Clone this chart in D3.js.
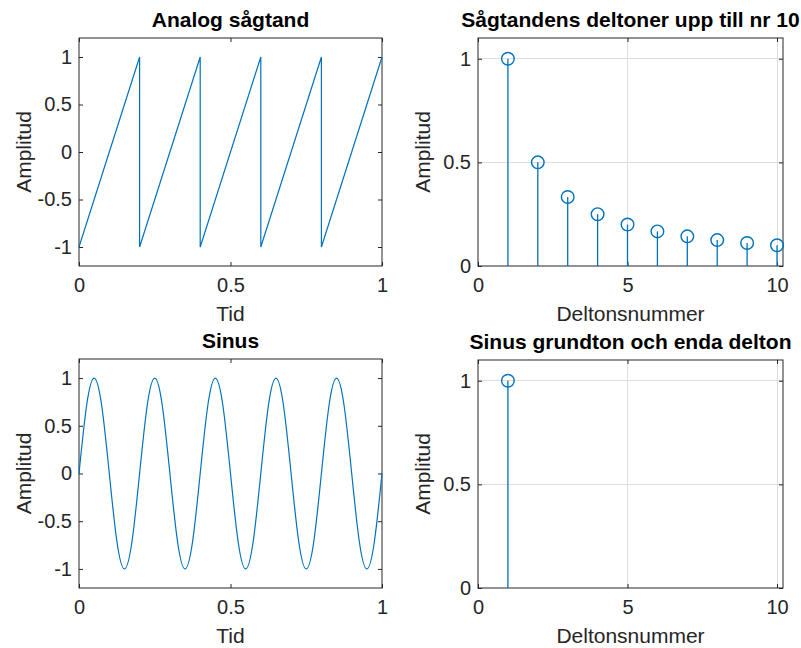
<!DOCTYPE html>
<html>
<head>
<meta charset="utf-8">
<script src="https://cdn.jsdelivr.net/npm/d3@7"></script>
<style>
  html, body { margin: 0; padding: 0; background: #fff; }
  svg { display: block; font-family: "Liberation Sans", Arial, Helvetica, sans-serif; }
</style>
</head>
<body>
<svg id="fig" width="801" height="648"></svg>
<script>
// Sawtooth: vertices of the ramp-and-drop waveform (time, amplitude)
const sawTime = [0, 0.2, 0.2, 0.4, 0.4, 0.6, 0.6, 0.8, 0.8, 1.0];
const sawAmp  = [-1, 1, -1, 1, -1, 1, -1, 1, -1, 1];

// Sine, 5 periods over one second, sampled every eighth of a period
const sinTime = [0, 0.025, 0.05, 0.075, 0.1, 0.125, 0.15, 0.175, 0.2, 0.225, 0.25, 0.275, 0.3,
  0.325, 0.35, 0.375, 0.4, 0.425, 0.45, 0.475, 0.5, 0.525, 0.55, 0.575, 0.6, 0.625, 0.65, 0.675,
  0.7, 0.725, 0.75, 0.775, 0.8, 0.825, 0.85, 0.875, 0.9, 0.925, 0.95, 0.975, 1.0];
const sinAmp = [0, 0.71, 1, 0.71, 0, -0.71, -1, -0.71, 0, 0.71, 1, 0.71, 0,
  -0.71, -1, -0.71, 0, 0.71, 1, 0.71, 0, -0.71, -1, -0.71, 0, 0.71, 1, 0.71,
  0, -0.71, -1, -0.71, 0, 0.71, 1, 0.71, 0, -0.71, -1, -0.71, 0];

// Partial numbers and amplitudes
const sawPartials = [1, 2, 3, 4, 5, 6, 7, 8, 9, 10];
const sawPartialAmp = [1, 0.5, 0.333, 0.25, 0.2, 0.167, 0.143, 0.125, 0.111, 0.1];
const sinPartials = [1];
const sinPartialAmp = [1];

// Tick values
const timeTicks = [0, 0.5, 1];
const ampTicks = [-1, -0.5, 0, 0.5, 1];
const partialTicks = [0, 5, 10];
const partialAmpTicks = [0, 0.5, 1];

// Titles and labels
const titles = ["Analog sågtand", "Sågtandens deltoner upp till nr 10", "Sinus", "Sinus grundton och enda delton"];
const xLabels = ["Tid", "Deltonsnummer", "Tid", "Deltonsnummer"];
const yLabel = "Amplitud";

const BLUE = "#0072BD";
const AXIS = "#262626";
const GRID = "#dedede";

const svg = d3.select("#fig");
const fmt = d => String(d);

function panel(opt) {
  const {x0, x1, y0, y1, xDomain, yDomain, xTicks, yTicks, grid, title, xLabel} = opt;
  const x = d3.scaleLinear().domain(xDomain).range([x0, x1]);
  const y = d3.scaleLinear().domain(yDomain).range([y1, y0]);
  const g = svg.append("g");

  if (grid) {
    g.append("g").selectAll("line.gx").data(xTicks.filter(t => t > xDomain[0]))
      .join("line").attr("x1", d => x(d)).attr("x2", d => x(d)).attr("y1", y0).attr("y2", y1)
      .attr("stroke", GRID).attr("stroke-width", 1).attr("shape-rendering", "crispEdges");
    g.append("g").selectAll("line.gy").data(yTicks.filter(t => t > yDomain[0]))
      .join("line").attr("y1", d => y(d)).attr("y2", d => y(d)).attr("x1", x0).attr("x2", x1)
      .attr("stroke", GRID).attr("stroke-width", 1).attr("shape-rendering", "crispEdges");
  }

  const tick = 4;
  const styleAxis = sel => {
    sel.select(".domain").remove();
    sel.selectAll(".tick line").attr("stroke", AXIS);
    sel.selectAll(".tick text").attr("fill", AXIS).style("font-size", "20px");
  };
  g.append("g").attr("transform", `translate(0,${y1})`)
    .call(d3.axisBottom(x).tickValues(xTicks).tickFormat(fmt).tickSizeInner(-tick).tickSizeOuter(0).tickPadding(12))
    .call(styleAxis);
  g.append("g").attr("transform", `translate(0,${y0})`)
    .call(d3.axisTop(x).tickValues(xTicks).tickFormat("").tickSizeInner(-tick).tickSizeOuter(0))
    .call(styleAxis);
  g.append("g").attr("transform", `translate(${x0},0)`)
    .call(d3.axisLeft(y).tickValues(yTicks).tickFormat(fmt).tickSizeInner(-tick).tickSizeOuter(0).tickPadding(7))
    .call(styleAxis);
  g.append("g").attr("transform", `translate(${x1},0)`)
    .call(d3.axisRight(y).tickValues(yTicks).tickFormat("").tickSizeInner(-tick).tickSizeOuter(0))
    .call(styleAxis);
  g.selectAll("g").attr("font-family", null).attr("font-size", null);

  g.append("rect").attr("x", x0).attr("y", y0).attr("width", x1 - x0).attr("height", y1 - y0)
    .attr("fill", "none").attr("stroke", AXIS).attr("stroke-width", 1);

  g.append("text").attr("x", (x0 + x1) / 2).attr("y", y0 - 11)
    .attr("text-anchor", "middle").style("font-size", "21px").style("font-weight", "bold")
    .attr("fill", "#000").text(title);
  g.append("text").attr("x", (x0 + x1) / 2).attr("y", y1 + 55)
    .attr("text-anchor", "middle").style("font-size", "21px").attr("fill", AXIS).text(xLabel);
  g.append("text").attr("transform", `translate(${x0 - 48},${(y0 + y1) / 2}) rotate(-90)`)
    .attr("text-anchor", "middle").style("font-size", "21px").attr("fill", AXIS).text(yLabel);

  return {g, x, y};
}

function linePanel(opt, tArr, aArr, curve) {
  const {g, x, y} = panel(opt);
  const pts = tArr.map((t, i) => [t, aArr[i]]);
  g.append("path").datum(pts)
    .attr("d", d3.line().x(d => x(d[0])).y(d => y(d[1])).curve(curve))
    .attr("fill", "none").attr("stroke", BLUE).attr("stroke-width", 1.2);
}

function stemPanel(opt, nArr, aArr) {
  const {g, x, y} = panel(opt);
  const pts = nArr.map((n, i) => [n, aArr[i]]);
  g.append("g").selectAll("line").data(pts).join("line")
    .attr("x1", d => x(d[0])).attr("x2", d => x(d[0]))
    .attr("y1", y(0)).attr("y2", d => y(d[1]))
    .attr("stroke", BLUE).attr("stroke-width", 1.3);
  g.append("g").selectAll("circle").data(pts).join("circle")
    .attr("cx", d => x(d[0])).attr("cy", d => y(d[1])).attr("r", 6.3)
    .attr("fill", "none").attr("stroke", BLUE).attr("stroke-width", 1.4);
}

linePanel({x0: 79, x1: 382, y0: 38, y1: 266, xDomain: [0, 1], yDomain: [-1.2, 1.2],
  xTicks: timeTicks, yTicks: ampTicks, grid: false, title: titles[0], xLabel: xLabels[0]},
  sawTime, sawAmp, d3.curveLinear);

stemPanel({x0: 478, x1: 783, y0: 38, y1: 266, xDomain: [0, 10.2], yDomain: [0, 1.1],
  xTicks: partialTicks, yTicks: partialAmpTicks, grid: true, title: titles[1], xLabel: xLabels[1]},
  sawPartials, sawPartialAmp);

linePanel({x0: 79, x1: 382, y0: 359, y1: 588, xDomain: [0, 1], yDomain: [-1.2, 1.2],
  xTicks: timeTicks, yTicks: ampTicks, grid: false, title: titles[2], xLabel: xLabels[2]},
  sinTime, sinAmp, d3.curveNatural);

stemPanel({x0: 478, x1: 783, y0: 360, y1: 588, xDomain: [0, 10.2], yDomain: [0, 1.1],
  xTicks: partialTicks, yTicks: partialAmpTicks, grid: true, title: titles[3], xLabel: xLabels[3]},
  sinPartials, sinPartialAmp);
</script>
</body>
</html>
